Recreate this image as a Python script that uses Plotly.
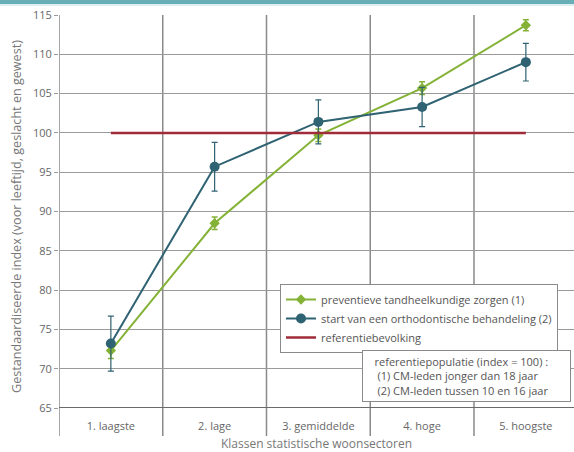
import plotly.graph_objects as go

categories = ["1. laagste", "2. lage", "3. gemiddelde", "4. hoge", "5. hoogste"]
preventief = [72.3, 88.5, 99.7, 105.7, 113.7]
preventief_err = [1.0, 0.8, 0.8, 0.8, 0.7]
ortho = [73.2, 95.7, 101.4, 103.3, 109.0]
ortho_err = [3.5, 3.1, 2.8, 2.5, 2.4]
referentie = [100, 100, 100, 100, 100]

GREEN = "#84b237"
TEAL = "#2f6272"
RED = "#a02c3a"
GRAY = "#777777"
FONT = "Open Sans"

xs = list(range(len(categories)))

fig = go.Figure()
fig.add_trace(go.Scatter(
    x=xs, y=preventief, mode="lines+markers",
    name="preventieve tandheelkundige zorgen (1)",
    line=dict(color=GREEN, width=2),
    marker=dict(symbol="diamond", size=8, color=GREEN),
    error_y=dict(type="data", array=preventief_err, color=GREEN, thickness=1.5, width=3),
))
fig.add_trace(go.Scatter(
    x=xs, y=ortho, mode="lines+markers",
    name="start van een orthodontische behandeling (2)",
    line=dict(color=TEAL, width=2),
    marker=dict(symbol="circle", size=10, color=TEAL),
    error_y=dict(type="data", array=ortho_err, color=TEAL, thickness=1.2, width=3),
))
fig.add_trace(go.Scatter(
    x=xs, y=referentie, mode="lines", name="referentiebevolking",
    line=dict(color=RED, width=2.5),
))

shapes = []
for b in [-0.5, 0.5, 1.5, 2.5, 3.5]:
    shapes.append(dict(type="line", xref="x", yref="paper", x0=b, x1=b, y0=-0.071, y1=1,
                       line=dict(color="#8a8a8a", width=1.5), layer="below"))
shapes.append(dict(type="rect", xref="paper", yref="paper", x0=-0.2, x1=1.05,
                   y0=(452 - 4 - 44) / 393, y1=(452 - 44) / 393 + 0.05,
                   fillcolor="#67aeb6", line=dict(width=0), layer="above"))
shapes.append(dict(type="line", xref="paper", yref="paper", x0=-0.2, x1=1.05,
                   y0=(452 - 5 - 44) / 393, y1=(452 - 5 - 44) / 393,
                   line=dict(color="#d5eaec", width=1.5)))
shapes.append(dict(type="line", xref="paper", yref="y", x0=0, x1=1.05, y0=65, y1=65,
                   line=dict(color="#6a6a6a", width=2)))

fig.update_layout(
    width=574, height=452,
    margin=dict(l=59, r=0, t=15, b=44, autoexpand=False),
    paper_bgcolor="white", plot_bgcolor="white",
    font=dict(family=FONT, size=11, color=GRAY),
    shapes=shapes,
    showlegend=True,
    legend=dict(
        x=(280 - 59) / 515, y=(408 - 284) / 393, xanchor="left", yanchor="top",
        bgcolor="white", bordercolor="#8a8a8a", borderwidth=1,
        font=dict(family=FONT, size=11, color="#555555"),
        itemwidth=30, tracegroupgap=0,
    ),
    xaxis=dict(
        range=[-0.5, 4.464], tickvals=xs, ticktext=categories,
        showgrid=False, zeroline=False, showline=False,
        ticks="outside", ticklen=8, tickcolor="rgba(0,0,0,0)",
        tickfont=dict(size=11, color="#666666"),
        title=dict(text="Klassen statistische woonsectoren", font=dict(size=12, color=GRAY), standoff=8),
        automargin=False,
    ),
    yaxis=dict(
        range=[65, 115], tickvals=list(range(65, 116, 5)),
        showgrid=True, gridcolor="#9a9a9a", gridwidth=1,
        zeroline=False, showline=False,
        ticks="outside", ticklen=4, tickcolor="#9a9a9a",
        tickfont=dict(size=11, color="#666666"),
        automargin=False,
    ),
    annotations=[
        dict(
            xref="paper", yref="paper", x=(362 - 59) / 515, y=(408 - 350) / 393,
            xanchor="left", yanchor="top", align="left", showarrow=False,
            text="   referentiepopulatie (index = 100) :<br>    (1) CM-leden jonger dan 18 jaar<br>    (2) CM-leden tussen 10 en 16 jaar",
            font=dict(family=FONT, size=11, color="#555555"),
            bgcolor="white", bordercolor="#8a8a8a", borderwidth=1, borderpad=3,
            width=201,
        ),
        dict(
            xref="paper", yref="paper", x=(16 - 59) / 515, y=(408 - 217) / 393,
            xanchor="center", yanchor="middle", textangle=-90, showarrow=False,
            text="Gestandaardiseerde index (voor leeftijd, geslacht en gewest)",
            font=dict(family=FONT, size=12.6, color=GRAY),
        ),
    ],
)

fig.write_html("out.html")
